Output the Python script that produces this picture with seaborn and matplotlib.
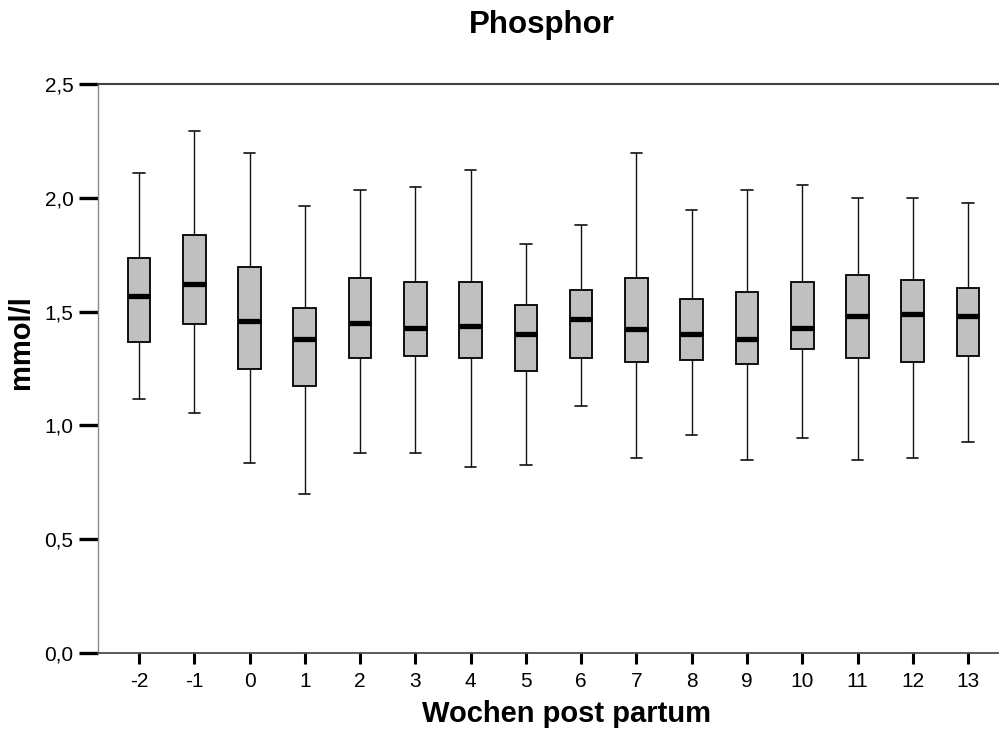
import numpy as np
import pandas as pd
import matplotlib
matplotlib.use("Agg")
import matplotlib.pyplot as plt
import seaborn as sns

# Weeks relative to calving
weeks = ["-2", "-1", "0", "1", "2", "3", "4", "5", "6", "7", "8", "9", "10", "11", "12", "13"]

# Five-number summaries of serum phosphorus (mmol/l) per week
whisker_low = [1.117, 1.053, 0.836, 0.697, 0.877, 0.877, 0.816, 0.826,
               1.087, 0.858, 0.957, 0.847, 0.946, 0.847, 0.858, 0.926]
quartile_1 = [1.365, 1.446, 1.246, 1.174, 1.295, 1.305, 1.295, 1.238,
              1.295, 1.279, 1.289, 1.268, 1.336, 1.295, 1.279, 1.305]
median = [1.569, 1.621, 1.459, 1.378, 1.449, 1.427, 1.435, 1.400,
          1.466, 1.422, 1.400, 1.378, 1.427, 1.479, 1.488, 1.479]
quartile_3 = [1.737, 1.838, 1.697, 1.514, 1.649, 1.630, 1.630, 1.529,
              1.596, 1.649, 1.557, 1.587, 1.630, 1.661, 1.640, 1.602]
whisker_high = [2.108, 2.295, 2.198, 1.965, 2.036, 2.046, 2.121, 1.796,
                1.879, 2.198, 1.946, 2.036, 2.056, 1.999, 1.999, 1.978]

y_ticks = [0.0, 0.5, 1.0, 1.5, 2.0, 2.5]
y_tick_labels = ["0,0", "0,5", "1,0", "1,5", "2,0", "2,5"]

# Long-form table: five values per week reproduce the summary exactly
rows = []
for i, w in enumerate(weeks):
    for v in (whisker_low[i], quartile_1[i], median[i], quartile_3[i], whisker_high[i]):
        rows.append({"Woche": w, "Phosphor": v})
df = pd.DataFrame(rows)

sns.set_theme(style="white")
plt.rcParams["font.family"] = ["Liberation Sans", "DejaVu Sans"]
plt.rcParams["text.color"] = "black"
plt.rcParams["axes.labelcolor"] = "black"
plt.rcParams["xtick.color"] = "black"
plt.rcParams["ytick.color"] = "black"

W, H = 999, 731
fig = plt.figure(figsize=(W / 100, H / 100), dpi=100)
ax = fig.add_axes([98 / W, (H - 653) / H, (W - 98) / W, (653 - 84) / H])

sns.boxplot(
    data=df, x="Woche", y="Phosphor", order=weeks, ax=ax,
    whis=(0, 100), width=0.41, color="#c0c0c0", linecolor="black",
    linewidth=1.0, showfliers=False, saturation=1,
    medianprops=dict(color="black", linewidth=3.8, solid_capstyle="butt"),
    whiskerprops=dict(color="#111111", linewidth=1.0),
    capprops=dict(color="#111111", linewidth=1.2),
    boxprops=dict(edgecolor="black", linewidth=1.3),
)

ax.set_xlim(-0.742, 15.56)
ax.set_ylim(0, 2.5)
ax.set_yticks(y_ticks)
ax.set_yticklabels(y_tick_labels)
ax.set_xlabel("")
ax.set_ylabel("")

ax.spines["right"].set_visible(False)
ax.spines["top"].set_color("#404040")
ax.spines["top"].set_linewidth(1.5)
ax.spines["bottom"].set_color("#404040")
ax.spines["bottom"].set_linewidth(1.2)
ax.spines["left"].set_color("#8a8a8a")
ax.spines["left"].set_linewidth(1.0)

ax.tick_params(axis="y", direction="out", length=13.7, width=2.4, color="black",
               labelcolor="black", labelsize=15, pad=4, left=True)
ax.tick_params(axis="x", direction="out", length=8, width=2.2, color="black",
               labelcolor="black", labelsize=15, pad=6, bottom=True)

fig.text(541.5 / W, (H - 33) / H, "Phosphor", ha="center", va="baseline",
         fontsize=22.5, fontweight="bold", color="black")
fig.text(566 / W, (H - 722) / H, "Wochen post partum", ha="center", va="baseline",
         fontsize=21, fontweight="bold", color="black")
fig.text(21 / W, (H - 342) / H, "mmol/l", ha="center", va="center",
         rotation=90, fontsize=21, fontweight="bold", color="black")

fig.savefig("out.png", dpi=100)
